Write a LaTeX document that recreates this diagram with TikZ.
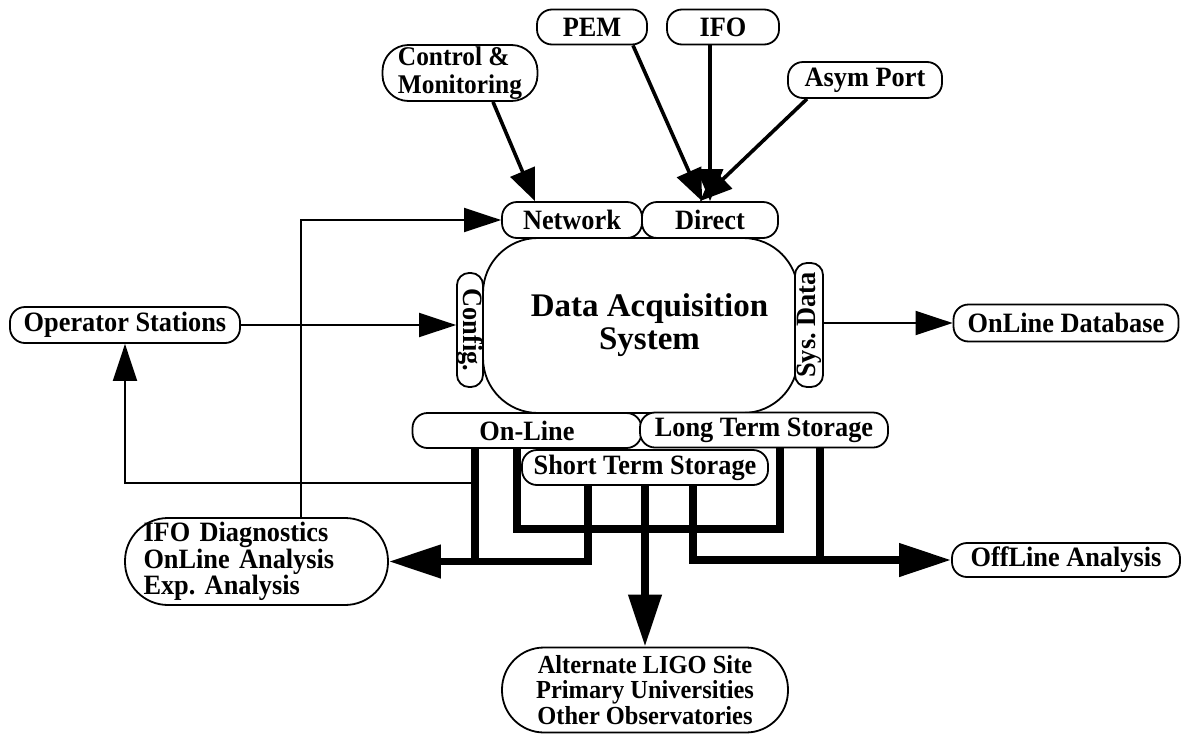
\documentclass[tikz,border=0pt]{standalone}
\usepackage{fontspec}
\setmainfont{Liberation Serif}
\newfontfamily\labelfont{Liberation Serif}[FakeStretch=0.94]
\usepackage{graphicx}
\usetikzlibrary{arrows.meta}

\begin{document}
\begin{tikzpicture}[x=1pt,y=-1pt,
  pill/.style={draw,line width=1.8pt,fill=white,rounded corners=15pt,inner sep=0pt,align=center,
    font=\labelfont\bfseries\fontsize{28}{25}\selectfont},
  link/.style={line width=2pt,-{Triangle[length=37pt,width=24pt]}},
  feed/.style={line width=3.6pt,-{Triangle[length=32pt,width=26pt]}},
  bus/.style={line width=7.5pt},
  busarrow/.style={-{Triangle[length=52pt,width=32pt]}}]
  \useasboundingbox (0,0) rectangle (1183,734);
  \node[pill,minimum width=230,minimum height=36] (opst) at (125,325) {Operator Stations};
  \node[pill,minimum width=225,minimum height=37] (db) at (1066,323) {OnLine Database};
  \node[pill,minimum width=155,minimum height=56,rounded corners=26pt,align=left,
    font=\labelfont\bfseries\fontsize{27}{27.5}\selectfont] (ctrl) at (460,73) {Control \&\\Monitoring};
  \node[pill,minimum width=110,minimum height=35] (pem) at (592,27) {PEM};
  \node[pill,minimum width=112,minimum height=35] (ifo) at (723,27) {IFO};
  \node[pill,minimum width=154,minimum height=36] (asym) at (865,80) {Asym Port};
  \node[pill,minimum width=140,minimum height=36] (network) at (572,220) {Network};
  \node[pill,minimum width=136,minimum height=36] (direct) at (710,220) {Direct};
  \node[pill,minimum width=315,minimum height=175,rounded corners=55pt,
    font=\bfseries\fontsize{33}{33}\selectfont] (daq) at (640.5,325.5) {\hspace*{18pt}Data Acquisition\\\hspace*{18pt}System};
  \node[pill,minimum width=26,minimum height=114,rounded corners=12pt] (config) at (470,330) {\rotatebox{-90}{Config.}};
  \node[pill,minimum width=28,minimum height=124,rounded corners=12pt] (sysdata) at (809,325) {\rotatebox{90}{Sys.\ Data}};
  \node[pill,minimum width=229,minimum height=35] (online) at (527,430.5) {On-Line};
  \node[pill,minimum width=248,minimum height=35] (longterm) at (764,430) {Long Term Storage};
  \node[pill,minimum width=246,minimum height=35] (short) at (645,467.5) {Short Term Storage};
  \node[pill,minimum height=87,rounded corners=43pt,align=left,text width=226pt,inner xsep=18.5pt,
    font=\labelfont\bfseries\fontsize{28}{24}\selectfont] (diag) at (256.5,561.5)
    {IFO Diagnostics\\OnLine Analysis\\Exp.\ Analysis};
  \node[pill,minimum width=228,minimum height=34] (offline) at (1066,560) {OffLine Analysis};
  \node[pill,minimum width=286,minimum height=85,rounded corners=42pt,
    font=\labelfont\bfseries\fontsize{26}{25.5}\selectfont] (alt) at (645,690) {Alternate LIGO Site\\Primary Universities\\Other Observatories};
  \draw[feed] ([xshift=33pt]ctrl.south) -- ([xshift=-37pt]network.north);
  \draw[feed] ([xshift=41pt]pem.south) -- ([xshift=-8pt]direct.north);
  \draw[feed] (ifo.south -| direct.north) -- (direct.north);
  \draw[feed] ([xshift=-58pt]asym.south) -- ([xshift=-10pt]direct.north);
  \draw[link] (opst.east) -- (opst.east -| config.west);
  \draw[link] (sysdata.east |- db.west) -- (db.west);
  \draw[link] ([xshift=44pt]diag.north) |- (network.west);
  \draw[link] ([xshift=-52pt,yshift=-34pt]online.south) -| (opst.south);
  \draw[bus,busarrow] ([xshift=-57pt]short.south) |- (diag.east);
  \draw[bus] ([xshift=-52pt]online.south) -- ++(0,113.5);
  \draw[bus] ([xshift=-10pt]online.south) -- ++(0,80) -| ([xshift=16pt]longterm.south);
  \draw[bus,busarrow] (short.south -| alt.north) -- (alt.north);
  \draw[bus,busarrow] ([xshift=48pt]short.south) |- (offline.west);
  \draw[bus] ([xshift=56pt]longterm.south) -- ++(0,112.5);
\end{tikzpicture}
\end{document}
